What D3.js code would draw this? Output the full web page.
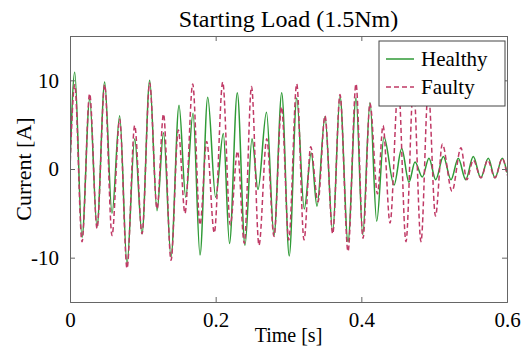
<!DOCTYPE html>
<html>
<head>
<meta charset="utf-8">
<script src="https://cdn.jsdelivr.net/npm/d3@7"></script>
<style>
  body { margin: 0; background: #fff; }
  svg { display: block; font-family: "Liberation Serif", "Times New Roman", serif; }
</style>
</head>
<body>
<svg id="chart"></svg>
<script>
const title = "Starting Load (1.5Nm)";
const xLabel = "Time [s]";
const yLabel = "Current [A]";
const seriesNames = ["Healthy", "Faulty"];
const seriesColors = ["#2f9a36", "#c03a66"];
const xTicks = [0, 0.2, 0.4, 0.6];
const yTicks = [-10, 0, 10];

// peaks / troughs: time [s], current [A]
const healthyTime = [0, 0.0065, 0.0165, 0.0270, 0.0371, 0.0476, 0.0577, 0.0682, 0.0783, 0.0888,
  0.0989, 0.1094, 0.1195, 0.1284, 0.1387, 0.1497, 0.1589, 0.1689, 0.1785, 0.1891,
  0.2000, 0.2105, 0.2190, 0.2297, 0.2403, 0.2499, 0.2581, 0.2698, 0.2801, 0.2907,
  0.3010, 0.3113, 0.3216, 0.3312, 0.3391, 0.3501, 0.3607, 0.3707, 0.3817, 0.3927,
  0.4019, 0.4119, 0.4211, 0.4311, 0.4449, 0.4554, 0.4654, 0.4737, 0.4837, 0.4929,
  0.5021, 0.5126, 0.5231, 0.5331, 0.5433, 0.5537, 0.5639, 0.5743, 0.5835, 0.5935, 0.6000];
const healthyCurrent = [0.5, 10.9, -7.7, 7.9, -6.5, 9.8, -5.0, 6.0, -10.7, 3.4,
  -7.3, 10.0, -4.7, 4.1, -9.9, 7.2, -3.2, 6.3, -9.7, 8.1,
  -3.2, 4.0, -8.4, 8.6, -8.6, 3.4, -2.3, 6.4, -7.5, 8.6,
  -9.8, 8.0, -4.5, 1.8, -4.2, 5.9, -7.1, 8.2, -8.2, 8.0,
  -7.4, 7.5, -5.9, 3.6, -1.8, 2.3, -1.5, 0.8, -0.9, 1.2,
  -1.2, 1.4, -1.2, 1.2, -1.2, 1.4, -1.0, 1.2, -1.0, 1.2, -0.4];

const faultyTime = [0, 0.0065, 0.0165, 0.0270, 0.0371, 0.0476, 0.0577, 0.0682, 0.0783, 0.0888,
  0.0989, 0.1094, 0.1195, 0.1284, 0.1387, 0.1487, 0.1579, 0.1685, 0.1785, 0.1877,
  0.1981, 0.2097, 0.2201, 0.2300, 0.2393, 0.2492, 0.2595, 0.2701, 0.2801, 0.2904,
  0.3004, 0.3113, 0.3213, 0.3305, 0.3405, 0.3501, 0.3607, 0.3707, 0.3817, 0.3927,
  0.4023, 0.4119, 0.4222, 0.4298, 0.4394, 0.4508, 0.4613, 0.4716, 0.4819, 0.4919,
  0.5018, 0.5112, 0.5245, 0.5368, 0.5447, 0.5537, 0.5643, 0.5735, 0.5835, 0.5935, 0.6000];
const faultyCurrent = [0, 9.5, -8.2, 8.5, -6.7, 9.5, -7.5, 5.6, -11.2, 4.9,
  -7.3, 9.7, -4.5, 6.2, -10.3, 4.4, -5.0, 9.6, -6.3, 3.1,
  -7.2, 9.8, -6.3, 2.0, -8.4, 9.3, -8.6, 3.4, -7.6, 7.0,
  -8.0, 9.6, -8.0, 2.5, -3.7, 6.0, -7.3, 8.4, -9.3, 9.6,
  -7.8, 7.4, -2.8, 4.9, -6.1, 9.5, -8.2, 9.5, -8.2, 9.0,
  -5.3, 2.8, -2.5, 2.4, -1.2, 1.0, -1.0, 1.0, -1.0, 1.2, -0.7];

const svgWidth = 528, svgHeight = 350;
const margin = { top: 36, right: 21, bottom: 48, left: 70 };
const width = svgWidth - margin.left - margin.right;
const height = svgHeight - margin.top - margin.bottom;
const axisColor = "#666";

const svg = d3.select("#chart").attr("width", svgWidth).attr("height", svgHeight);
const g = svg.append("g").attr("transform", `translate(${margin.left},${margin.top})`);

const x = d3.scaleLinear().domain([0, 0.6]).range([0, width]);
const y = d3.scaleLinear().domain([-15, 15]).range([height, 0]);

g.append("clipPath").attr("id", "plot-clip")
  .append("rect").attr("width", width).attr("height", height);

// series
const line = d3.line()
  .x(d => x(d[0]))
  .y(d => y(d[1]))
  .curve(d3.curveMonotoneX);

const healthy = healthyTime.map((t, i) => [t, healthyCurrent[i]]);
const faulty = faultyTime.map((t, i) => [t, faultyCurrent[i]]);

const lines = g.append("g").attr("clip-path", "url(#plot-clip)");
lines.append("path").datum(healthy)
  .attr("d", line).attr("fill", "none")
  .attr("stroke", seriesColors[0]).attr("stroke-width", 1.5);
lines.append("path").datum(faulty)
  .attr("d", line).attr("fill", "none")
  .attr("stroke", seriesColors[1]).attr("stroke-width", 1.5)
  .attr("stroke-dasharray", "5,3");

// axes, box style with inward ticks on all sides
function styleAxis(sel) {
  sel.select(".domain").attr("stroke", axisColor);
  sel.selectAll(".tick line").attr("stroke", axisColor);
  sel.selectAll("text").attr("fill", "#000").attr("font-size", 21)
    .attr("font-family", "Liberation Serif, Times New Roman, serif");
}
const plain = d => String(d);

g.append("g").attr("transform", `translate(0,${height})`)
  .call(d3.axisBottom(x).tickValues(xTicks).tickSize(-5).tickPadding(10).tickFormat(plain))
  .call(styleAxis);
g.append("g")
  .call(d3.axisTop(x).tickValues(xTicks).tickSize(-5).tickFormat(""))
  .call(styleAxis);
g.append("g")
  .call(d3.axisLeft(y).tickValues(yTicks).tickSize(-5).tickPadding(11).tickFormat(plain))
  .call(styleAxis);
g.append("g").attr("transform", `translate(${width},0)`)
  .call(d3.axisRight(y).tickValues(yTicks).tickSize(-5).tickFormat(""))
  .call(styleAxis);

// title and labels
svg.append("text")
  .attr("x", margin.left + width / 2).attr("y", 27)
  .attr("text-anchor", "middle").attr("font-size", 24)
  .text(title);
svg.append("text")
  .attr("x", margin.left + width / 2).attr("y", 342)
  .attr("text-anchor", "middle").attr("font-size", 20)
  .text(xLabel);
svg.append("text")
  .attr("transform", `translate(31,${margin.top + height / 2}) rotate(-90)`)
  .attr("text-anchor", "middle").attr("font-size", 22)
  .text(yLabel);

// legend
const legend = g.append("g").attr("transform", `translate(${width - 128},5)`);
legend.append("rect")
  .attr("width", 126).attr("height", 65)
  .attr("fill", "#fff").attr("stroke", "#444").attr("stroke-width", 1);
seriesNames.forEach((name, i) => {
  const row = legend.append("g").attr("transform", `translate(0,${18 + i * 28})`);
  row.append("line")
    .attr("x1", 7).attr("x2", 35)
    .attr("stroke", seriesColors[i]).attr("stroke-width", 1.5)
    .attr("stroke-dasharray", i === 1 ? "5,3" : null);
  row.append("text")
    .attr("x", 42).attr("y", 7)
    .attr("font-size", 21)
    .text(name);
});
</script>
</body>
</html>
